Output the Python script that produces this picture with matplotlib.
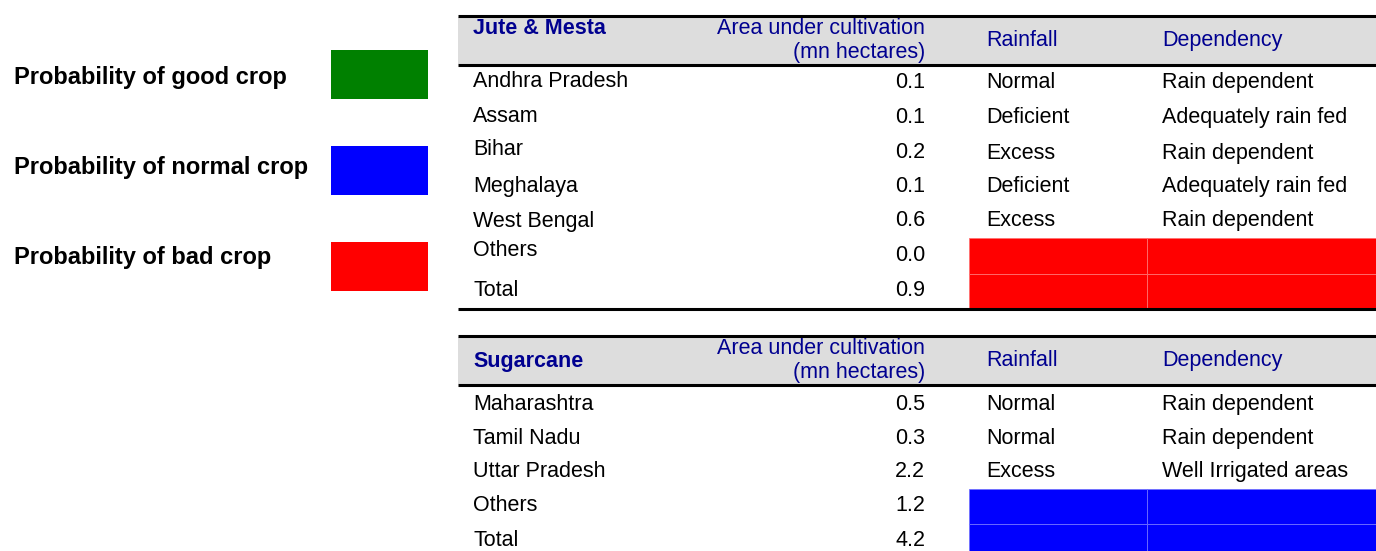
import matplotlib
matplotlib.use("Agg")
import matplotlib.pyplot as plt
from matplotlib.patches import Rectangle

plt.rcParams['font.family'] = ['Liberation Sans', 'DejaVu Sans']

# ---------------- data ----------------
legend_labels = ["Probability of good crop", "Probability of normal crop", "Probability of bad crop"]
legend_colors = ["#008000", "#0000FF", "#FF0000"]

col_headers = ["Area under cultivation\n(mn hectares)", "Rainfall", "Dependency"]

t1_title = "Jute & Mesta"
t1_states = ["Andhra Pradesh", "Assam", "Bihar", "Meghalaya", "West Bengal", "Others", "Total"]
t1_area = [0.1, 0.1, 0.2, 0.1, 0.6, 0.0, 0.9]
t1_rain = ["Normal", "Deficient", "Excess", "Deficient", "Excess", "", ""]
t1_dep = ["Rain dependent", "Adequately rain fed", "Rain dependent", "Adequately rain fed", "Rain dependent", "", ""]
t1_outlook = 2  # index into legend: bad crop

t2_title = "Sugarcane"
t2_states = ["Maharashtra", "Tamil Nadu", "Uttar Pradesh", "Others", "Total"]
t2_area = [0.5, 0.3, 2.2, 1.2, 4.2]
t2_rain = ["Normal", "Normal", "Excess", "", ""]
t2_dep = ["Rain dependent", "Rain dependent", "Well Irrigated areas", "", ""]
t2_outlook = 1  # normal crop

# ---------------- layout ----------------
W, H = 1376, 551
fig = plt.figure(figsize=(W / 100, H / 100), dpi=100)
ax = fig.add_axes([0, 0, 1, 1])
ax.set_xlim(0, W)
ax.set_ylim(H, 0)
ax.axis('off')

FS = 15.5
FS_LEG = 17.0
NAVY = "#000090"
GRAY = "#DDDDDD"
LW = 2.2
CAP = 7.8  # half cap height in px

X0, X1 = 458, W
X_NAME, X_AREA, X_RAIN, X_DEP = 473, 925, 986, 1162
X_CELL0, X_CELL_MID = 969, 1147

lighter = {"#FF0000": "#FF7070", "#0000FF": "#7070FF", "#008000": "#70B070"}

# legend
leg_centers = [76, 166, 256]
leg_box_tops = [50, 146, 242]
for lab, col, yc, bt in zip(legend_labels, legend_colors, leg_centers, leg_box_tops):
    ax.text(14, yc + 8.3, lab, fontsize=FS_LEG, fontweight='bold', color='black', va='baseline', ha='left')
    ax.add_patch(Rectangle((331, bt), 97, 49, facecolor=col, edgecolor='none'))


def draw_table(title, states, area, rain, dep, outlook, top, row_centers, area_centers,
               rain_centers, title_baseline, bottom=None):
    band_top, band_bot = top + 1.5, top + 48
    ax.add_patch(Rectangle((X0, band_top), X1 - X0, band_bot - band_top, facecolor=GRAY, edgecolor='none'))
    ax.plot([X0, X1], [top, top], color='black', lw=LW, solid_capstyle='butt')
    ax.plot([X0, X1], [band_bot + 1.5, band_bot + 1.5], color='black', lw=LW, solid_capstyle='butt')
    # header texts
    ax.text(X_NAME, title_baseline, title, fontsize=FS, fontweight='bold', color=NAVY, va='baseline', ha='left')
    l1, l2 = col_headers[0].split("\n")
    ax.text(X_AREA, top + 18.5, l1, fontsize=FS, color=NAVY, va='baseline', ha='right')
    ax.text(X_AREA, top + 42.5, l2, fontsize=FS, color=NAVY, va='baseline', ha='right')
    ax.text(X_RAIN, top + 30.5, col_headers[1], fontsize=FS, color=NAVY, va='baseline', ha='left')
    ax.text(X_DEP, top + 30.5, col_headers[2], fontsize=FS, color=NAVY, va='baseline', ha='left')
    # fill cells for rows lacking rainfall/dependency
    col = legend_colors[outlook]
    fill_rows = [i for i, r in enumerate(rain) if r == ""]
    if fill_rows:
        n = len(fill_rows)
        y_start = cell_tops_for(top, fill_rows, len(states))
        ch = 35.2
        for k in range(n):
            y = y_start + k * ch
            for xa, xb in [(X_CELL0, X_CELL_MID), (X_CELL_MID, X1)]:
                ax.add_patch(Rectangle((xa, y), xb - xa, ch, facecolor=col, edgecolor=lighter[col], lw=0.6))
    for i, s in enumerate(states):
        ax.text(X_NAME, row_centers[i] + CAP, s, fontsize=FS, color='black', va='baseline', ha='left')
        ax.text(X_AREA, area_centers[i] + CAP, f"{area[i]:.1f}", fontsize=FS, color='black', va='baseline', ha='right')
        if rain[i]:
            ax.text(X_RAIN, rain_centers[i] + CAP, rain[i], fontsize=FS, color='black', va='baseline', ha='left')
            ax.text(X_DEP, rain_centers[i] + CAP, dep[i], fontsize=FS, color='black', va='baseline', ha='left')
    if bottom is not None:
        ax.plot([X0, X1], [bottom, bottom], color='black', lw=LW, solid_capstyle='butt')


_fill_tops = {}


def cell_tops_for(top, fill_rows, nrows):
    return _fill_tops[top]


# table 1
_fill_tops[15.5] = 238.3
draw_table(t1_title, t1_states, t1_area, t1_rain, t1_dep, t1_outlook, 15.5,
           row_centers=[79.5, 114, 147, 184, 219, 248, 288],
           area_centers=[80, 115, 150, 184, 218, 253, 288],
           rain_centers=[80, 115, 151, 184, 218, 0, 0],
           title_baseline=34.5, bottom=308.8)

# table 2
_fill_tops[335.5] = 488.5
draw_table(t2_title, t2_states, t2_area, t2_rain, t2_dep, t2_outlook, 335.5,
           row_centers=[402.5, 436, 469, 503, 538],
           area_centers=[402.5, 436, 469, 503, 538],
           rain_centers=[402.5, 436, 469, 0, 0],
           title_baseline=366.5)

fig.savefig("out.png", dpi=100)
